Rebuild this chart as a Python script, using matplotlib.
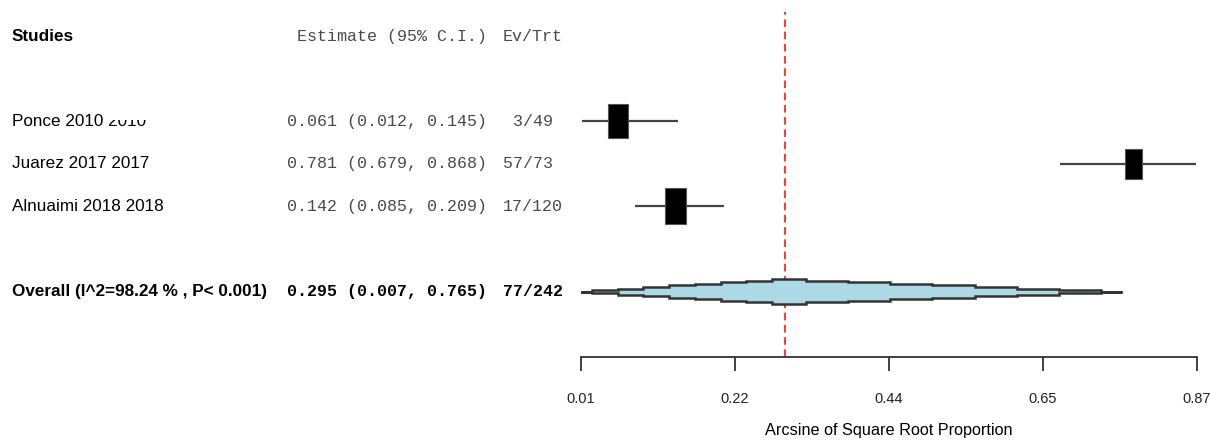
import numpy as np
import matplotlib
matplotlib.use('Agg')
import matplotlib.pyplot as plt
from matplotlib import font_manager, transforms
from matplotlib.patches import Rectangle, Polygon

# data
studies = ['Ponce 2010 2010', 'Juarez 2017 2017', 'Alnuaimi 2018 2018']
est = [0.061, 0.781, 0.142]
ci_lo = [0.012, 0.679, 0.085]
ci_hi = [0.145, 0.868, 0.209]
events = [3, 57, 17]
totals = [49, 73, 120]
overall_est = 0.295
overall_lo = 0.007
overall_hi = 0.765
i2 = 98.24
p_text = 'P< 0.001'
tick_vals = [0.01, 0.225, 0.44, 0.655, 0.87]
tick_labels = ['0.01', '0.22', '0.44', '0.65', '0.87']

# rows (0 = header, then studies, then overall)
study_rows = [2, 3, 4]
overall_row = 6

W, H = 1210, 441
ROW_PX = 42.6
ROW0_PX = 36.0
AXIS_PX = 357.0


def has_font(name):
    try:
        font_manager.findfont(font_manager.FontProperties(family=name), fallback_to_default=False)
        return True
    except Exception:
        return False


narrow = has_font('Liberation Sans Narrow')
sans = ['Liberation Sans Narrow', 'DejaVu Sans'] if narrow else ['Liberation Sans', 'DejaVu Sans']
k = 1.0 if narrow else 0.82
mono = ['Liberation Mono', 'DejaVu Sans Mono']
gray = '#4a4a4a'

fig = plt.figure(figsize=(W / 100, H / 100), dpi=100)
ax = fig.add_axes([581 / W, (H - AXIS_PX) / H, 616 / W, AXIS_PX / H])
ax.set_xlim(0.01, 0.87)
ax.set_ylim((AXIS_PX - ROW0_PX) / ROW_PX, -ROW0_PX / ROW_PX)

for s in ['top', 'left', 'right']:
    ax.spines[s].set_visible(False)
ax.spines['bottom'].set_linewidth(1.3)
ax.spines['bottom'].set_color('#333333')
ax.set_yticks([])
ax.set_xticks(tick_vals)
ax.set_xticklabels(tick_labels, family=sans, fontsize=10.5, color='#222222')
ax.tick_params(axis='x', direction='out', length=10, width=1.3, color='#333333', pad=15.5)
ax.set_xlabel('Arcsine of Square Root Proportion', family=sans, fontsize=14.3 * k,
              labelpad=12)

# px -> data unit helpers for the marker sizes
xpx = (0.87 - 0.01) / 616
box_w_px = [20, 17, 21]
box_h_px = [34, 30, 36]

# reference line at the pooled estimate
ax.axvline(overall_est, ymin=0, ymax=0.965, color='red', lw=1.1, ls=(0, (5, 3)))

# study CIs and boxes
ax.hlines(study_rows, ci_lo, ci_hi, color='#444444', lw=1.6)
for i, r in enumerate(study_rows):
    bw = box_w_px[i] * xpx
    bh = box_h_px[i] / ROW_PX
    ax.add_patch(Rectangle((est[i] - bw / 2, r - bh / 2), bw, bh,
                           facecolor='black', edgecolor='#555555', lw=0.8, zorder=3))

# stepped diamond for the overall estimate
n_steps = 8
half_h = 12.3 / ROW_PX
wl = (overall_est - overall_lo) / n_steps
wr = (overall_hi - overall_est) / n_steps
top = []
for i in range(n_steps, 0, -1):
    h = half_h * (1 - i / n_steps)
    xa = max(overall_lo, overall_est - (i + 0.5) * wl)
    xb = overall_est - (i - 0.5) * wl
    top += [(xa, h), (xb, h)]
top += [(overall_est - 0.5 * wl, half_h), (overall_est + 0.5 * wr, half_h)]
for i in range(1, n_steps + 1):
    h = half_h * (1 - i / n_steps)
    xa = overall_est + (i - 0.5) * wr
    xb = min(overall_hi, overall_est + (i + 0.5) * wr)
    top += [(xa, h), (xb, h)]
pts = [(x, overall_row - h) for x, h in top] + [(x, overall_row + h) for x, h in top[::-1]]
ax.add_patch(Polygon(pts, closed=True, facecolor='#ADD8E6', edgecolor='#333333', lw=1.8, zorder=3))

# text columns
tr = transforms.blended_transform_factory(fig.transFigure, ax.transData)
x_name = 12 / W
x_est = 487 / W
x_ev = 503 / W

fig.text(x_name, 0, 'Studies', transform=tr, family=sans, fontsize=15 * k,
         fontweight='bold', va='center', ha='left')
fig.text(x_est, 0, 'Estimate (95% C.I.)', transform=tr, family=mono, fontsize=12,
         color=gray, va='center', ha='right')
fig.text(x_ev, 0, 'Ev/Trt', transform=tr, family=mono, fontsize=12,
         color=gray, va='center', ha='left')

name_txt = []
for i, r in enumerate(study_rows):
    t = fig.text(x_name, r, studies[i], transform=tr, family=sans, fontsize=15 * k,
                 va='center', ha='left')
    name_txt.append(t)
    fig.text(x_est, r, f'{est[i]:.3f} ({ci_lo[i]:.3f}, {ci_hi[i]:.3f})', transform=tr,
             family=mono, fontsize=12, color=gray, va='center', ha='right')
    fig.text(x_ev, r, f'{events[i]}/{totals[i]}'.center(6), transform=tr,
             family=mono, fontsize=12, color=gray, va='center', ha='left')

fig.text(x_name, overall_row, f'Overall (I^2={i2:.2f} % , {p_text})', transform=tr,
         family=sans, fontsize=15 * k, fontweight='bold', va='center', ha='left')
fig.text(x_est, overall_row, f'{overall_est:.3f} ({overall_lo:.3f}, {overall_hi:.3f})',
         transform=tr, family=mono, fontsize=12, fontweight='bold', va='center', ha='right')
fig.text(x_ev, overall_row, f'{sum(events)}/{sum(totals)}', transform=tr,
         family=mono, fontsize=12, fontweight='bold', va='center', ha='left')

# the last "2010" of the first label is cut off at the top in the original
fig.canvas.draw()
rend = fig.canvas.get_renderer()
bb = name_txt[0].get_window_extent(rend)
probe = fig.text(0, 0, '2010', family=sans, fontsize=15 * k)
w2010 = probe.get_window_extent(rend).width
probe.remove()
cut_y = bb.y0 + 0.58 * bb.height
fig.patches.append(Rectangle((bb.x1 - w2010 - 1, cut_y), w2010 + 4, bb.y1 - cut_y + 2,
                             transform=None, facecolor='white', edgecolor='none',
                             figure=fig, zorder=10))

fig.savefig('out.png', dpi=100)
